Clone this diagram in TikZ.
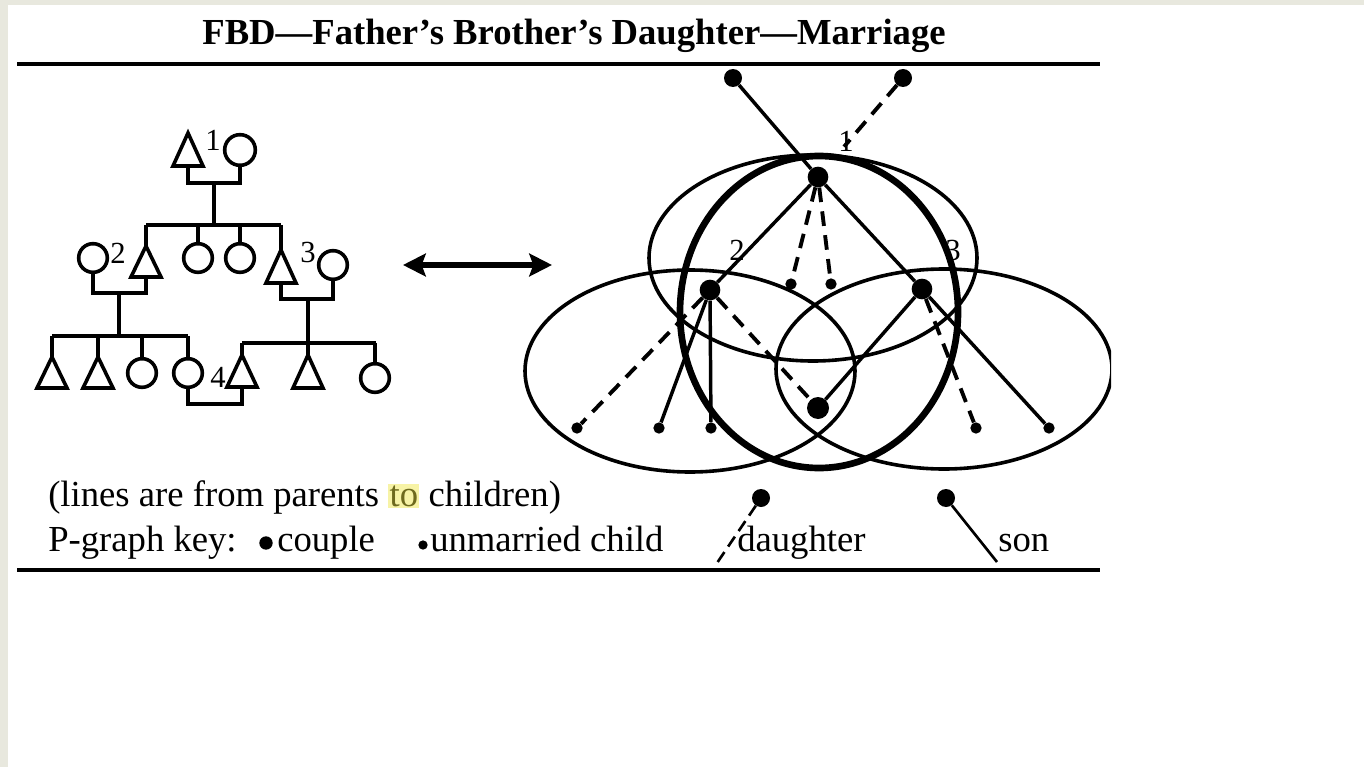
\documentclass[tikz,border=0pt]{standalone}
\usepackage{fontspec}
\setmainfont{Liberation Serif}
\usetikzlibrary{arrows.meta}
\definecolor{bordergray}{HTML}{E8E8DE}
\definecolor{hl}{HTML}{F7F3A6}
\definecolor{hltext}{HTML}{6E6A1E}
\newcommand\ptri[4]{%
  \draw[ped] (#2,#3) -- ({#2-15},#4) -- ({#2+15},#4) -- cycle;
  \coordinate (#1t) at (#2,#3);
  \coordinate (#1b) at (#2,#4);}
\begin{document}
\begin{tikzpicture}[x=0.75pt,y=-0.75pt,
  ped/.style={line width=2.7pt, line join=miter},
  pcirc/.style={circle, draw, line width=2.7pt, inner sep=0pt, minimum size=21.5pt},
  rule/.style={line width=3.2pt},
  ell/.style={line width=2.7pt},
  bigell/.style={line width=5pt},
  couple/.style={circle, fill=black, inner sep=0pt, minimum size=15.5pt},
  topcouple/.style={circle, fill=black, inner sep=0pt, minimum size=13.5pt},
  single/.style={circle, fill=black, inner sep=0pt, minimum size=8.5pt},
  sonline/.style={line width=2.6pt},
  dauline/.style={line width=2.9pt, dash pattern=on 11pt off 7pt},
  txt/.style={font=\fontsize{27.5}{33}\selectfont, inner sep=0pt, anchor=base west},
  lbl/.style={font=\fontsize{23}{27}\selectfont, inner sep=0pt},
]
\useasboundingbox (0,0) rectangle (1364,767);
\fill[white] (0,0) rectangle (1364,767);
\fill[bordergray] (0,0) rectangle (8,767);
\fill[bordergray] (0,0) rectangle (1364,5);

% title and rules
\node[font=\bfseries\fontsize{27.5}{33}\selectfont, inner sep=0pt, anchor=base] (title) at (574,45) {FBD---Father's Brother's Daughter---Marriage};
\draw[rule] (17,64) -- (1100,64);
\draw[rule] (17,570) -- (1100,570);

% ---------------- pedigree ----------------
\ptri{a1}{188}{133}{166}
\node[pcirc, minimum size=23pt] (c1) at (240,150) {};
\node[lbl] at (213,140) {1};
\draw[ped] (a1b) -- ++(0,17) -| (c1.south);
\draw[ped] (214,183) -- (214,225);
\draw[ped] (146,225) -- (281,225);
% generation 2
\ptri{a2}{146}{246}{277}
\node[pcirc] (c2a) at (198,258) {};
\node[pcirc] (c2b) at (240,258) {};
\ptri{a3}{281}{250}{283}
\draw[ped] (146,225) -- (a2t);
\draw[ped] (198,225) -- (c2a.north);
\draw[ped] (240,225) -- (c2b.north);
\draw[ped] (281,225) -- (a3t);
\node[pcirc] (w2) at (93,258) {};
\node[lbl] at (118,253) {2};
\draw[ped] (w2.south) -- ++(0,19) -| (a2b);
\draw[ped] (119,292) -- (119,336);
\draw[ped] (52,336) -- (188,336);
\node[pcirc] (w3) at (333,265) {};
\node[lbl] at (308,252) {3};
\draw[ped] (a3b) -- ++(0,16) -| (w3.south);
\draw[ped] (308,299) -- (308,343);
\draw[ped] (242,343) -- (376,343);
% generation 3
\ptri{b1}{52}{357}{388}
\ptri{b2}{98}{357}{388}
\node[pcirc] (e1) at (142,373) {};
\node[pcirc] (e2) at (188,373) {};
\draw[ped] (52,336) -- (b1t);
\draw[ped] (98,336) -- (b2t);
\draw[ped] (142,336) -- (e1.north);
\draw[ped] (188,336) -- (e2.north);
\ptri{f1}{242}{355}{387}
\ptri{f2}{308}{355}{388}
\node[pcirc] (g3) at (375,378) {};
\draw[ped] (242,343) -- (f1t);
\draw[ped] (308,343) -- (f2t);
\draw[ped] (375,343) -- (g3.north);
\node[lbl] at (218,377) {4};
\draw[ped] (e2.south) -- ++(0,15) -| (f1b);

% double arrow
\coordinate (arrL) at (403,265);
\coordinate (arrR) at (552,265);
\draw[line width=4.8pt, {Stealth[length=17pt,width=17pt,inset=3pt]}-{Stealth[length=17pt,width=17pt,inset=3pt]}] (arrL) -- (arrR);

% ---------------- P-graph ----------------
\begin{scope}
\clip (0,0) rectangle (1111,767);
\draw[ell] (813,258) ellipse [x radius=164, y radius=103];
\draw[ell] (690,371) ellipse [x radius=165, y radius=101];
\draw[ell] (944,369) ellipse [x radius=168, y radius=100];
\draw[bigell] (819,312) ellipse [x radius=139, y radius=156];
\end{scope}

\node[topcouple] (g1) at (733,78) {};
\node[topcouple] (g2) at (903,78) {};
\node[couple] (n1) at (818,177) {};
\node[couple] (n2) at (710,290) {};
\node[couple] (n3) at (922,289) {};
\node[couple, minimum size=16.5pt] (n4) at (818,408) {};
\node[single] (d1a) at (791,284) {};
\node[single] (d1b) at (831,284) {};
\node[single] (k2a) at (577,428) {};
\node[single] (k2b) at (659,428) {};
\node[single] (k2c) at (711,428) {};
\node[single] (k3a) at (976,428) {};
\node[single] (k3b) at (1049,428) {};

\draw[sonline] (g1) -- (n1);
\draw[dauline, shorten >=22pt] (g2) -- (n1);
\draw[sonline] (n1) -- (n2);
\draw[sonline] (n1) -- (n3);
\draw[dauline] (n1) -- (d1a);
\draw[dauline] (n1) -- (d1b);
\draw[dauline] (n2) -- (k2a);
\draw[sonline] (n2) -- (k2b);
\draw[sonline] (n2) -- (k2c);
\draw[dauline] (n2) -- (n4);
\draw[sonline] (n3) -- (n4);
\draw[dauline] (n3) -- (k3a);
\draw[sonline] (n3) -- (k3b);

\node[lbl] at (846,141) {1};
\node[lbl] at (737,250) {2};
\node[lbl] at (953,250) {3};

% ---------------- legend ----------------
\node[txt] (l1) at (48,506) {(lines are from parents {\setlength\fboxsep{1pt}\colorbox{hl}{\textcolor{hltext}{to}}} children)};
\node[txt] (l2) at (48,551) {P-graph key:};
\node[single, minimum size=10pt] (kc) at (266,543) {};
\node[txt] at (277,551) {couple};
\node[single, minimum size=7pt] (ku) at (423,545) {};
\node[txt] at (430,551) {unmarried child};
\node[topcouple] (kd) at (761,498) {};
\coordinate (kdend) at (717,563);
\draw[dauline, line width=2pt, dash pattern=on 9pt off 5pt] (kd) -- (kdend);
\node[txt] at (737,551) {daughter};
\node[topcouple] (ks) at (946,498) {};
\coordinate (ksend) at (997,562);
\draw[sonline, line width=2pt] (ks) -- (ksend);
\node[txt] at (998,551) {son};
\end{tikzpicture}
\end{document}
